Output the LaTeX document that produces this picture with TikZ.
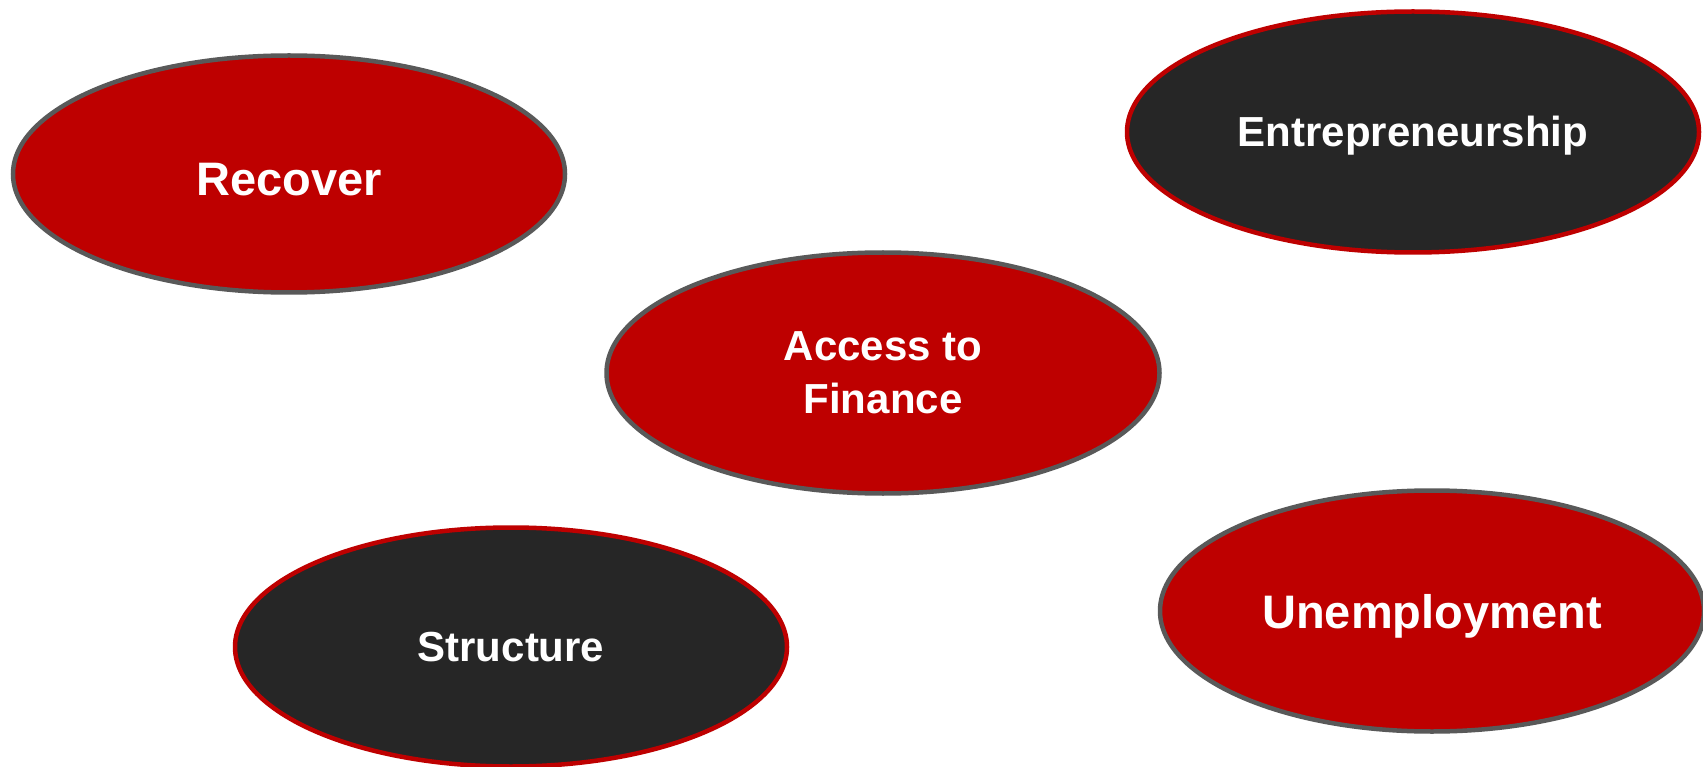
\documentclass[tikz,border=0pt]{standalone}
\usepackage{fontspec}
\setmainfont{Liberation Sans}
\usetikzlibrary{shapes.geometric}
\definecolor{myred}{HTML}{BE0000}
\definecolor{mydark}{HTML}{262626}
\definecolor{mygray}{HTML}{595959}
\tikzset{
  oval/.style={ellipse, inner sep=0pt, line width=4.5pt, text=white, align=center,
    font=\bfseries\fontsize{42}{53}\selectfont},
  redoval/.style={oval, fill=myred, draw=mygray},
  darkoval/.style={oval, fill=mydark, draw=myred},
  bigtext/.style={font=\bfseries\fontsize{47}{56}\selectfont},
}
\begin{document}
\begin{tikzpicture}[x=1pt,y=-1pt]
\useasboundingbox[fill=white] (0,0) rectangle (1703,767);
\node[redoval, bigtext, minimum width=552pt, minimum height=237pt, text height=43pt, text depth=0pt] (recover) at (289,174) {Recover};
\node[darkoval, minimum width=572pt, minimum height=241pt, text height=30pt, text depth=0pt] (entre) at (1413,132) {Entrepreneurship};
\node[redoval, minimum width=553pt, minimum height=241pt] (access) at (883,373) {Access to\\Finance};
\node[darkoval, minimum width=552pt, minimum height=239pt] (structure) at (511,647) {Structure};
\node[redoval, bigtext, minimum width=544pt, minimum height=241pt, text height=34pt, text depth=0pt] (unemp) at (1432,611) {Unemployment};
\end{tikzpicture}
\end{document}
